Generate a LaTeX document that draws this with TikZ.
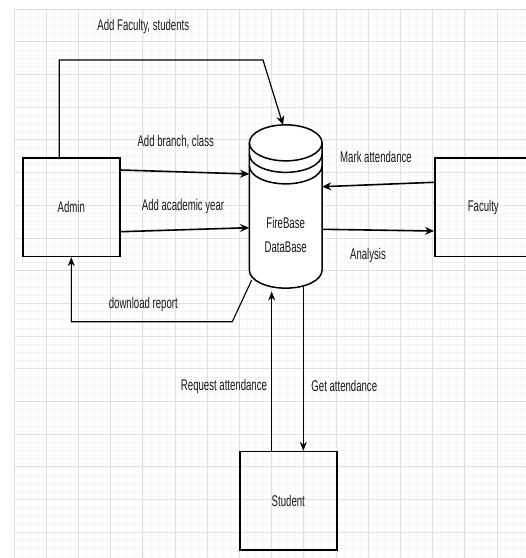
\documentclass[tikz,border=0pt]{standalone}
\usepackage{fontspec}
\setmainfont[FakeStretch=0.62]{Liberation Sans}
\usetikzlibrary{arrows.meta,positioning,calc}

\begin{document}
\begin{tikzpicture}[x=1pt,y=-1pt]
%% styles
\tikzstyle{entity}=[rectangle,draw=black,line width=1.5pt,minimum width=97pt,minimum height=98.5pt,inner sep=0pt,font=\fontsize{15.5}{19}\selectfont,text=black!90]
\tikzstyle{store}=[rectangle,minimum width=72.7pt,minimum height=163.3pt,inner sep=0pt]
\tikzstyle{lbl}=[font=\fontsize{15.5}{19}\selectfont,text=black!90,inner sep=0pt]
\tikzstyle{flow}=[-{Stealth[length=9pt,width=8pt]},line width=1.6pt]
\tikzstyle{thinflow}=[-{Stealth[length=9pt,width=7pt]},line width=1.1pt]

%% background grid
\useasboundingbox (0,0) rectangle (526,558);
\fill[white] (0,0) rectangle (526,558);
\foreach \x in {0,...,64}
\draw[black!4,line width=0.6pt] (14+\x*8.05,9) -- (14+\x*8.05,558);
\foreach \y in {0,...,67}
\draw[black!4,line width=0.6pt] (14,9+\y*8.175) -- (526,9+\y*8.175);
\foreach \x in {0,...,16}
\draw[black!12,line width=0.8pt] (14+\x*32.2,9) -- (14+\x*32.2,558);
\foreach \y in {0,...,16}
\draw[black!12,line width=0.8pt] (14,9+\y*32.7) -- (526,9+\y*32.7);

%% nodes
% external entities
\node[entity] (admin) at (71.3,207.2) {Admin};
\node[entity] (faculty) at (483.3,207.2) {Faculty};
\node[entity] (student) at (288.3,500.8) {Student};
% data store
\node[store] (db) at (285.7,206.7) {};
\coordinate (dbtop) at ($(db.north)+(0,18)$);
\draw[line width=1.5pt,fill=white] ($(dbtop)+(-36.35,0)$)
  arc[start angle=180,end angle=0,x radius=36.35pt,y radius=18pt] -- ++(0,127.3)
  arc[start angle=0,end angle=-180,x radius=36.35pt,y radius=18pt] -- cycle;
\foreach \d in {0,11.5,23}
\draw[line width=1.5pt] ($(dbtop)+(-36.35,\d)$) arc[start angle=180,end angle=360,x radius=36.35pt,y radius=18pt];
\node[lbl,align=center,font=\fontsize{15.5}{24}\selectfont] (dbtext) at (285.7,234.7) {FireBase\\DataBase};

%% arrows
\coordinate (bend1) at (263,60);
\coordinate (dbfoot) at (251.7,280);
\coordinate (bend2) at (232.3,321.7);
% admin
\draw[flow,line width=1.2pt] ([xshift=-12pt]admin.north) |- (bend1) -- ([xshift=-2.7pt]db.north);
\draw[flow] ([yshift=37.2pt]admin.east) -- ([yshift=32.7pt]db.west);
\draw[flow] ([yshift=-24.5pt]admin.east) -- ([yshift=-21pt]db.west);
\draw[thinflow] (dbfoot) -- (bend2) -| (admin.south);
% faculty
\draw[flow] ([yshift=24.9pt]faculty.west) -- ([yshift=20pt]db.east);
\draw[flow] ([yshift=-22.6pt]db.east) -- ([yshift=-23.8pt]faculty.west);
% student
\draw[thinflow] ([xshift=-16.6pt]student.north) -- ([xshift=-14pt,yshift=-3pt]db.south);
\draw[thinflow] ([xshift=17.6pt,yshift=2pt]db.south) -- ([xshift=15pt]student.north);

%% flow labels
\foreach \name/\x/\y/\txt in {lfs/143.3/26.7/{Add Faculty, students},
  lbc/175.7/141.7/{Add branch, class}, lay/183/206.7/{Add academic year},
  lma/376/156.7/{Mark attendance}, lan/368/255/{Analysis},
  ldr/143.3/304/{download report}, lra/224/386/{Request attendance},
  lga/344.3/386/{Get attendance}}
\node[lbl] (\name) at (\x,\y) {\txt};
\end{tikzpicture}
\end{document}
